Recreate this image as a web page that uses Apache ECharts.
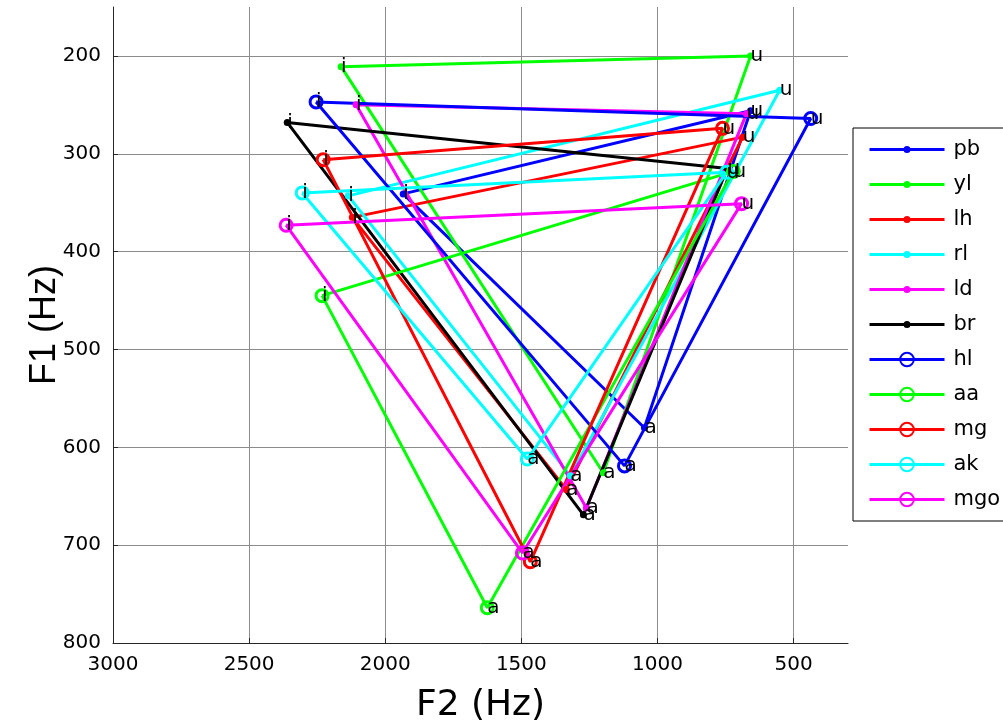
<!DOCTYPE html>
<html>
<head>
<meta charset="utf-8">
<script src="https://cdn.jsdelivr.net/npm/echarts@6/dist/echarts.min.js"></script>
<style>
html,body{margin:0;padding:0;background:#fff;}
#chart{width:1003px;height:727px;}
</style>
</head>
<body>
<div id="chart"></div>
<script>
// ---- data ----
const speakers = ['pb','yl','lh','rl','ld','br','hl','aa','mg','ak','mgo'];
const vowels = ['i','a','u'];
const F2_i = [1934, 2162, 2121, 2136, 2107, 2360, 2254, 2232, 2228, 2305, 2364];
const F2_a = [1048, 1199, 1335, 1320, 1261, 1272, 1121, 1625, 1467, 1478, 1496];
const F2_u = [ 658,  658,  687,  551,  673,  743,  437,  721,  761,  746,  691];
const F1_i = [ 341,  211,  365,  343,  250,  268,  247,  445,  306,  340,  373];
const F1_a = [ 580,  626,  643,  629,  662,  669,  619,  764,  717,  612,  708];
const F1_u = [ 256,  200,  283,  235,  259,  315,  264,  318,  274,  319,  351];
const xTicks = [3000, 2500, 2000, 1500, 1000, 500];
const yTicks = [200, 300, 400, 500, 600, 700, 800];

// ---- styles ----
const colors = ['#0000ff','#00ff00','#ff0000','#00ffff','#ff00ff','#000000',
                '#0000ff','#00ff00','#ff0000','#00ffff','#ff00ff'];
const WIDE = 'DejaVu Sans, Verdana, sans-serif';
const NARROW = 'Liberation Sans, Arial, Helvetica, sans-serif';
const DOT_ICON = 'path://M0,2L75,2L75,5L0,5Z M41,3.5A3.5,3.5,0,1,1,34,3.5A3.5,3.5,0,1,1,41,3.5Z';

const series = speakers.map((name, k) => {
  const isCircle = k >= 6;
  const c = colors[k];
  const pts = [
    [F2_i[k], F1_i[k], vowels[0]],
    [F2_a[k], F1_a[k], vowels[1]],
    [F2_u[k], F1_u[k], vowels[2]]
  ];
  const data = pts.map(p => ({ value: [-p[0], -p[1]], name: p[2] }));
  data.push({ value: [-pts[0][0], -pts[0][1]], name: '', symbol: 'none', label: { show: false } });
  return {
    type: 'line',
    name: name,
    data: data,
    symbol: 'circle',
    symbolSize: isCircle ? 12 : 7,
    showAllSymbol: true,
    animation: false,
    lineStyle: { color: c, width: 3 },
    itemStyle: isCircle
      ? { color: 'rgba(255,255,255,0)', borderColor: c, borderWidth: 3 }
      : { color: c, borderWidth: 0 },
    label: {
      show: true,
      position: 'inside',
      align: 'left',
      verticalAlign: 'middle',
      formatter: p => p.data.name,
      color: '#000',
      fontFamily: WIDE,
      fontSize: 20
    },
    emphasis: { disabled: true }
  };
});

const legendData = speakers.map((name, k) => k >= 6 ? { name: name } : { name: name, icon: DOT_ICON });

const chart = echarts.init(document.getElementById('chart'), null, { renderer: 'canvas' });
chart.setOption({
  backgroundColor: '#fff',
  animation: false,
  grid: { left: 113, right: 155, top: 7, bottom: 84, containLabel: false, outerBoundsMode: 'none' },
  xAxis: {
    type: 'value',
    min: -xTicks[0], max: -300, interval: 500,
    name: 'F2 (Hz)', nameLocation: 'middle', nameGap: 45,
    nameTextStyle: { fontFamily: WIDE, fontSize: 36, color: '#000' },
    axisLine: { show: true, lineStyle: { color: '#262626', width: 1 } },
    axisTick: { show: true, inside: true, length: 5, lineStyle: { color: '#262626' } },
    axisLabel: { formatter: v => String(-v), fontFamily: WIDE, fontSize: 20, color: '#000', margin: 12, showMaxLabel: false },
    splitLine: { show: true, showMaxLine: false, lineStyle: { color: '#8c8c8c', width: 1 } }
  },
  yAxis: {
    type: 'value',
    min: -yTicks[yTicks.length - 1], max: -150, interval: 100,
    name: 'F1 (Hz)', nameLocation: 'middle', nameGap: 50, nameMoveOverlap: false,
    nameTextStyle: { fontFamily: NARROW, fontSize: 36, color: '#000' },
    axisLine: { show: true, lineStyle: { color: '#262626', width: 1 } },
    axisTick: { show: true, inside: true, length: 5, lineStyle: { color: '#262626' } },
    axisLabel: { formatter: v => String(-v), fontFamily: WIDE, fontSize: 20, color: '#000', margin: 12, showMaxLabel: false },
    splitLine: { show: true, showMaxLine: false, lineStyle: { color: '#8c8c8c', width: 1 } }
  },
  legend: {
    orient: 'vertical',
    left: 853, top: 128,
    padding: [11, 4, 11, 15],
    itemGap: 14,
    itemWidth: 75,
    itemHeight: 17,
    symbolKeepAspect: true,
    backgroundColor: '#fff',
    borderColor: '#000',
    borderWidth: 1,
    borderRadius: 0,
    lineStyle: { width: 3 },
    textStyle: { fontFamily: WIDE, fontSize: 21, color: '#000', lineHeight: 20, padding: [0, 0, 0, 4] },
    data: legendData
  },
  series: series
});
</script>
</body>
</html>
